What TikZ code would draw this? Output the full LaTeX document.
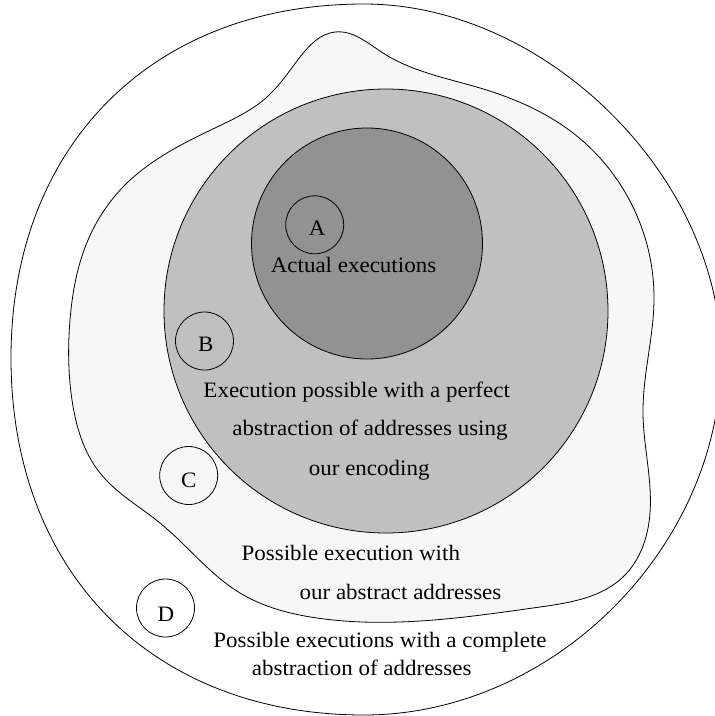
\documentclass[tikz,border=0pt]{standalone}
\usepackage{fontspec}
\usetikzlibrary{hobby}
\setmainfont{Liberation Serif}[FakeStretch=1.045]
\definecolor{shadeblob}{RGB}{247,247,247}
\definecolor{shademid}{RGB}{192,192,192}
\definecolor{shadedark}{RGB}{146,146,146}
\begin{document}
\begin{tikzpicture}[x=1pt,y=-1pt,
  region/.style={draw=black, line width=0.8pt},
  tagcircle/.style={circle, draw=black, line width=0.8pt, minimum size=58pt, inner sep=0pt},
  lbl/.style={anchor=base, inner sep=0pt, font=\fontsize{22}{26}\selectfont}]
\useasboundingbox (0,0) rectangle (715,716);
% outer region: all possible executions
\draw[region, fill=white]
  (364,4) .. controls (546,4) and (721,177.5) .. (721,358)
          .. controls (721,547.2) and (553.2,715) .. (364,715)
          .. controls (152.2,715) and (11,572.2) .. (11,358)
          .. controls (11,145.6) and (152.2,4) .. cycle;
% abstract-address region (blob)
\draw[region, fill=shadeblob, use Hobby shortcut, closed=true]
  (335,32) .. (383,53) .. (480,88) .. (573,133) .. (633,207) .. (654,300)
  .. (643,413) .. (650,513) .. (623,577) .. (540,607) .. (420,621) .. (317,618)
  .. (240,593) .. (160,523) .. (100,473) .. (72,400) .. (70,320) .. (88,240)
  .. (127,183) .. (217,127) .. (267,97) .. (300,57);
% perfect abstraction region
\node[region, circle, fill=shademid, minimum size=444pt, inner sep=0pt] (perfect) at (386,311) {};
% actual executions region
\node[region, circle, fill=shadedark, minimum size=231pt, inner sep=0pt] (actual) at (367,243.5) {};
% tag circles
\node[tagcircle] (cA) at (314.7,224.8) {};
\node[tagcircle] (cB) at (204.5,341) {};
\node[tagcircle] (cC) at (188.7,475.5) {};
\node[tagcircle] (cD) at (165.5,608) {};
\node[lbl] (tA) at (317.2,235) {A};
\node[lbl] (tB) at (205.7,351) {B};
\node[lbl] (tC) at (188.7,487) {C};
\node[lbl] (tD) at (166,621) {D};
% texts
\node[lbl] (t1) at (353.5,272.5) {Actual executions};
\node[lbl] (t2) at (356.7,397.7) {Execution possible with a perfect};
\node[lbl] (t3) at (370,435.7) {abstraction of addresses using};
\node[lbl] (t4) at (369.2,475) {our encoding};
\node[lbl] (t5) at (350.8,560.3) {Possible execution with};
\node[lbl] (t6) at (400.5,599.3) {our abstract addresses};
\node[lbl] (t7) at (380,647.7) {Possible executions with a complete};
\node[lbl] (t8) at (361.7,675.3) {abstraction of addresses};
\end{tikzpicture}
\end{document}
